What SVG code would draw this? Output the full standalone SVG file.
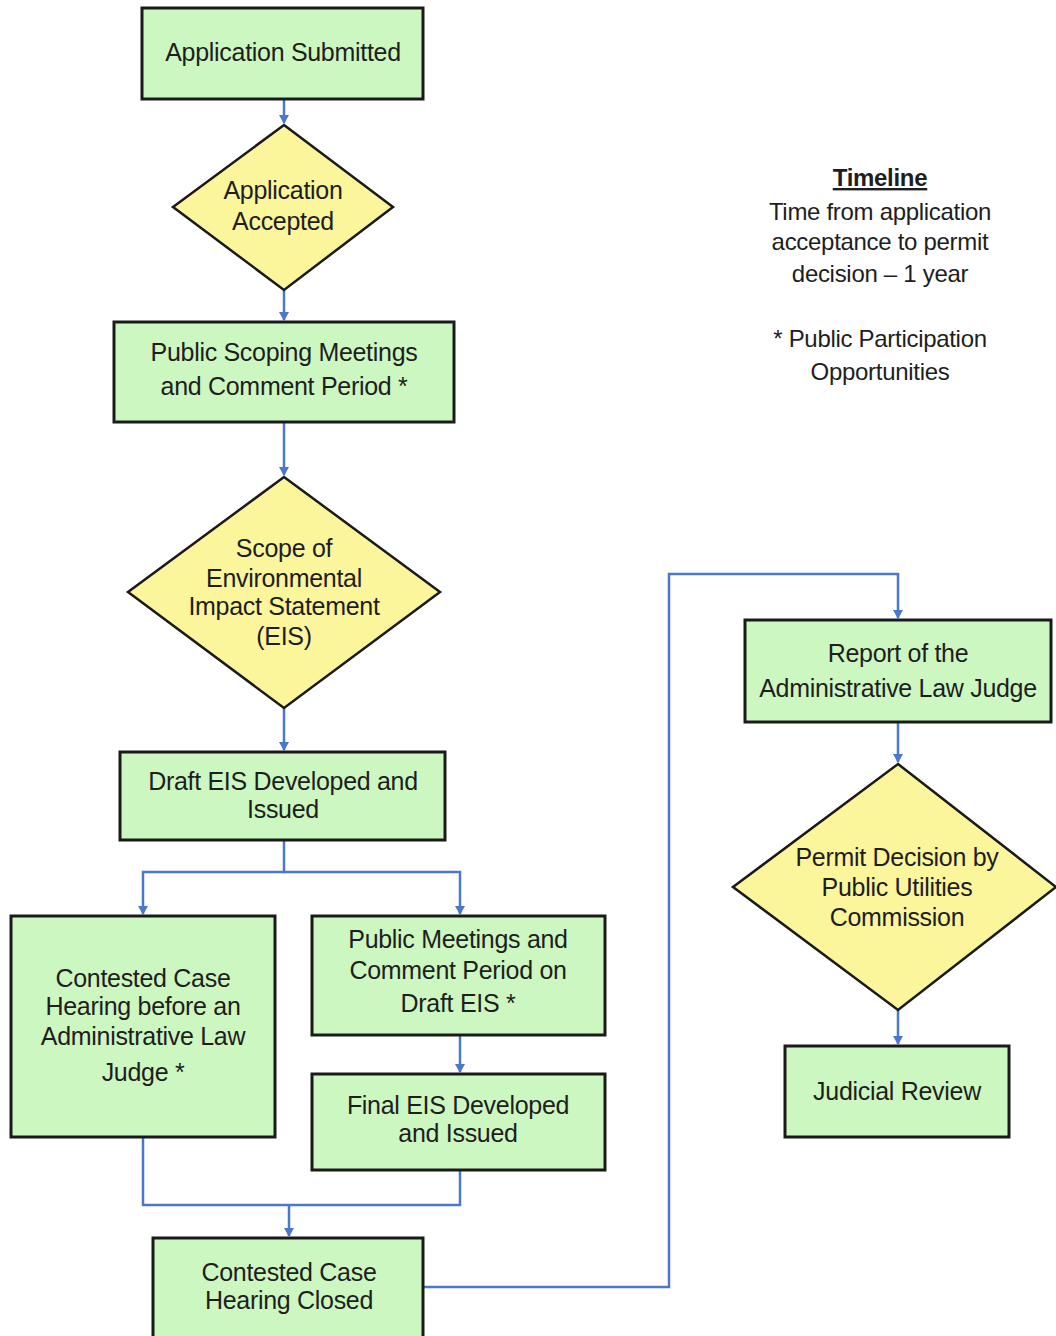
<svg xmlns="http://www.w3.org/2000/svg" width="1056" height="1336" viewBox="0 0 1056 1336">
<style>
.box{fill:#cdf7c0;stroke:#1a1a1a;stroke-width:3}
.dia{fill:#fbf59c;stroke:#1a1a1a;stroke-width:2.5}
.t{font-family:"Liberation Sans",Arial,sans-serif;font-size:25px;fill:#1e1e1e;text-anchor:middle;letter-spacing:-0.3px}
.tl{font-size:24px}
.c{fill:none;stroke:#4a78cc;stroke-width:2.5}
</style>
<defs>
<marker id="ah" markerWidth="10" markerHeight="10" refX="8" refY="5" orient="auto" markerUnits="userSpaceOnUse">
<path d="M0,0 L9,5 L0,10 z" fill="#4a78cc"/>
</marker>
</defs>
<rect width="1056" height="1336" fill="#fff"/>
<g id="connectors">
<path class="c" d="M284,99 V123" marker-end="url(#ah)"/>
<path class="c" d="M284,290 V320" marker-end="url(#ah)"/>
<path class="c" d="M284,422 V475" marker-end="url(#ah)"/>
<path class="c" d="M284,708 V750" marker-end="url(#ah)"/>
<path class="c" d="M284,840 V872 H143 V914" marker-end="url(#ah)"/>
<path class="c" d="M284,872 H460 V914" marker-end="url(#ah)"/>
<path class="c" d="M460,1035 V1072" marker-end="url(#ah)"/>
<path class="c" d="M143,1137 V1205 H460 V1170"/>
<path class="c" d="M289,1205 V1236" marker-end="url(#ah)"/>
<path class="c" d="M423,1287 H669 V574 H898 V618" marker-end="url(#ah)"/>
<path class="c" d="M898,722 V762" marker-end="url(#ah)"/>
<path class="c" d="M898,1010 V1044" marker-end="url(#ah)"/>
</g>
<g id="n1"><rect class="box" x="142" y="8" width="281" height="91"/>
<text class="t" x="283" y="61">Application Submitted</text></g>
<g id="n2"><polygon class="dia" points="284,125 393,207 284,290 173,207"/>
<text class="t" x="283" y="199">Application</text><text class="t" x="283" y="230">Accepted</text></g>
<g id="n3"><rect class="box" x="114" y="322" width="340" height="100"/>
<text class="t" x="284" y="361">Public Scoping Meetings</text><text class="t" x="284" y="395">and Comment Period *</text></g>
<g id="n4"><polygon class="dia" points="284,477 440,592 284,708 128,592"/>
<text class="t" x="284" y="557">Scope of</text><text class="t" x="284" y="587">Environmental</text><text class="t" x="284" y="615">Impact Statement</text><text class="t" x="284" y="645">(EIS)</text></g>
<g id="n5"><rect class="box" x="120" y="752" width="325" height="88"/>
<text class="t" x="283" y="790">Draft EIS Developed and</text><text class="t" x="283" y="818">Issued</text></g>
<g id="n6"><rect class="box" x="11" y="916" width="264" height="221"/>
<text class="t" x="143" y="987">Contested Case</text><text class="t" x="143" y="1015">Hearing before an</text><text class="t" x="143" y="1045">Administrative Law</text><text class="t" x="143" y="1081">Judge *</text></g>
<g id="n7"><rect class="box" x="312" y="916" width="293" height="119"/>
<text class="t" x="458" y="948">Public Meetings and</text><text class="t" x="458" y="979">Comment Period on</text><text class="t" x="458" y="1012">Draft EIS *</text></g>
<g id="n8"><rect class="box" x="312" y="1074" width="293" height="96"/>
<text class="t" x="458" y="1114">Final EIS Developed</text><text class="t" x="458" y="1142">and Issued</text></g>
<g id="n9"><rect class="box" x="153" y="1238" width="270" height="100"/>
<text class="t" x="289" y="1281">Contested Case</text><text class="t" x="289" y="1309">Hearing Closed</text></g>
<g id="n10"><rect class="box" x="745" y="620" width="306" height="102"/>
<text class="t" x="898" y="662">Report of the</text><text class="t" x="898" y="697">Administrative Law Judge</text></g>
<g id="n11"><polygon class="dia" points="898,764 1056,887 898,1010 733,887"/>
<text class="t" x="897" y="866">Permit Decision by</text><text class="t" x="897" y="896">Public Utilities</text><text class="t" x="897" y="926">Commission</text></g>
<g id="n12"><rect class="box" x="785" y="1046" width="224" height="91"/>
<text class="t" x="897" y="1100">Judicial Review</text></g>
<g id="timeline">
<text class="t tl" x="880" y="186" style="font-weight:bold;text-decoration:underline">Timeline</text>
<text class="t tl" x="880" y="220">Time from application</text>
<text class="t tl" x="880" y="250">acceptance to permit</text>
<text class="t tl" x="880" y="282">decision – 1 year</text>
<text class="t tl" x="880" y="347">* Public Participation</text>
<text class="t tl" x="880" y="380">Opportunities</text>
</g>
</svg>
